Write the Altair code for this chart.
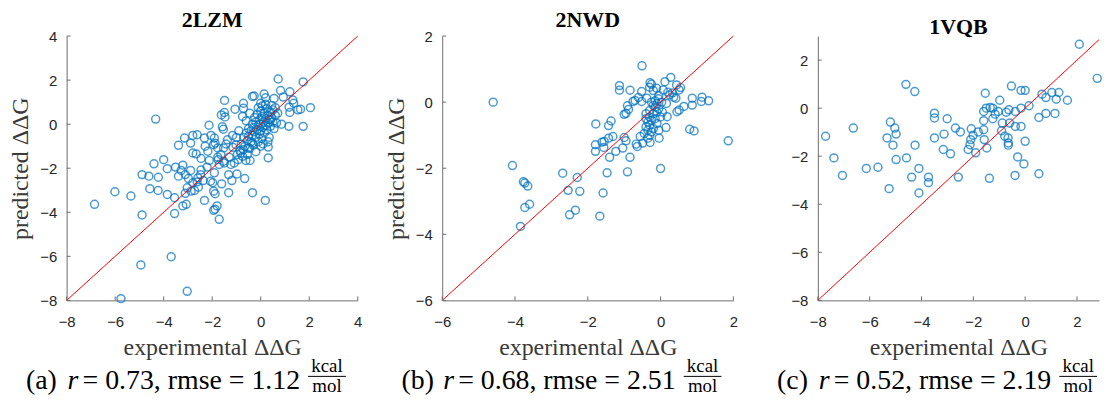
import altair as alt
import pandas as pd

names = ["2LZM", "2NWD", "1VQB"]

# ---- panel (a) 2LZM ----
a_exp = [0.72, 1.75, 0.82, 1.2, 0.14, -0.27, -0.34, 0.2, 0.55, 0.93, 1.32, 1.36, -1.49, -0.71, -0.71, -1.06, 0.0, 0.07,
         1.17, 1.2, 1.53, 1.64, 2.05, -1.5, -1.62, -1.47, -4.33, -1.58, -1.54, -2.13, 0.86, 1.16, 1.75, 0.41, 0.31, 0.31,
         -3.14, -3.39, -2.89, -2.8, -2.62, -2.8, -2.66, -2.32, -2.05, -1.91, -1.94, -2.18, -2.29, -2.46, -2.12, -1.77,
         -1.64, -1.53, -1.3, -1.23, -1.15, -1.16, -1.02, -0.82, -0.61, -0.44,
         -1.37, -1.43, -1.53, -1.77, -1.88, -1.71, -1.5, -1.75, -1.09, -0.93, -0.96, -0.75, -0.71, -0.55, -0.52, -0.34,
         -4.0, -4.4, -3.85, -4.22, -4.61, -4.89, -3.51, -3.21, -3.28, -3.39, -3.11, -2.89, -2.98, -2.59, -2.48, -2.62,
         -2.8, -3.03, -2.87, -3.11, -2.73, -2.57, -1.98, -2.07, -1.91, -1.61, -1.94, -1.88, -1.32, -1.19, -0.98, -0.66,
         -1.32, -0.34, 0.19, -2.32, -1.88, -1.8, -1.94, -1.71, -3.07, -3.21, -3.55, -3.55, -4.23, -4.57, -3.85, -5.35,
         -6.01, -6.85, -4.89, -3.69, -4.94, -3.03, -5.76, -2.21, -2.46, -2.37,
         -0.8, -0.7, -0.65, -0.6, -0.55, -0.5, -0.5, -0.45, -0.4, -0.4, -0.35, -0.35, -0.3, -0.3, -0.25, -0.25, -0.2,
         -0.2, -0.15, -0.15, -0.1, -0.1, -0.05, -0.05, 0.0, 0.0, 0.0, 0.05, 0.05, 0.1, 0.1, 0.15, 0.15, 0.2, 0.2, 0.25,
         0.25, 0.3, 0.3, 0.35, 0.35, 0.4, 0.4, 0.45, 0.5, 0.5, 0.55, 0.6, 0.65, -0.6, -0.9, -1.0, -0.85, -0.75, -0.45,
         0.0, 0.3, -0.2, 0.45, 0.2, -0.1, 0.6, 0.7, 0.1]
a_pred = [2.05, 1.92, 1.53, 1.47, 1.37, 1.28, 1.26, 1.2, 1.17, 1.23, 1.1, 0.95, 1.08, 0.95, 0.72, 0.68, 0.95, 0.83,
          0.77, 0.53, 0.65, 0.68, 0.75, 0.53, 0.42, 0.33, 0.23, -0.12, -0.23, -0.05, 0.0, -0.1, -0.1, 0.2, -1.53, -1.04,
          -0.63, -0.96, -0.86, -0.51, -0.48, -1.31, -1.35, -0.63, -0.51, -0.63, -0.93, -1.23, -1.0, -1.56, -1.65, -1.5,
          -1.38, -1.68, -1.5, -1.83, -1.05, -0.51, -0.93, -1.31, -1.65, -1.65,
          -0.71, -0.9, -1.08, -1.08, -0.86, -1.83, -1.76, -1.61, -1.76, -1.61, -1.38, -1.46, -1.16, -1.38, -1.08, -0.86,
          -1.61, -1.8, -2.02, -2.41, -2.36, -2.29, -1.95, -1.86, -2.1, -2.36, -2.29, -2.1, -2.47, -2.44, -2.29, -2.62,
          -2.66, -2.89, -3.04, -3.14, -3.01, -2.86, -2.66, -2.59, -2.21, -2.71, -3.04, -3.16, -2.29, -2.56, -2.26, -2.47,
          -3.11, -3.11, -3.46, -3.46, -3.86, -3.71, -3.91, -4.32, -3.64, -3.71, -3.34, -4.06, -3.01, -2.93, -3.19, -3.26,
          -3.07, -3.64, -4.12, -6.02, -6.39, -7.59, -7.92, -1.95, -2.08, -2.56,
          -0.9, -0.6, -1.0, -0.4, -0.75, -0.2, -0.55, -1.1, -0.3, -0.8, 0.0, -0.5, -0.15, -0.95, 0.3, -0.35, -0.6,
          0.1, -0.25, 0.45, -0.05, -0.8, 0.2, -0.45, 0.0, 0.6, -0.3, 0.35, -0.65, 0.1, -0.15, 0.5, -0.4, 0.25, -0.05, 0.7,
          -0.25, 0.4, 0.05, 0.2, -0.6, 0.55, -0.1, 0.3, 0.1, 0.65, -0.2, 0.4, 0.05, 0.15, -0.3, -0.6, -1.2, 0.35, 0.5,
          -1.0, -0.8, -1.25, 0.85, 0.9, 0.75, 0.75, 0.5, -0.9]

# ---- panel (b) 2NWD ----
b_exp = [-4.6, -0.51, 0.28, -0.29, -0.25, 0.12, 0.44, 0.55, 0.51, -1.13, -1.13, -0.84, -0.52, -0.11, 0.07, -0.61,
         -0.52, -0.76, -0.38, -0.25, -0.15, -0.06, 0.03, 0.16, 0.25, 0.36, 0.42, 0.87, 0.87, 1.14, 1.12, 1.32, 0.64,
         0.45, 0.51, 0.18, 0.15, -0.04, 0.8, 0.92, 1.86, -0.91, -0.88, -1.0, -0.95, -1.36, -1.43, -1.78, -1.31, -1.43,
         -1.55, -1.61, -1.79, -1.79, -1.56, -1.23, -1.4, -1.04, -1.0, -0.95, -0.84, -0.67, -0.64, -0.56, -0.49, -0.29,
         -0.35, -1.47, -0.91, 0.0, -1.58, -1.67, -2.69, -2.29, -2.54, -2.22, -2.34, -2.5, -4.07, -3.77, -3.73, -3.65,
         -3.6, -3.73, -3.85,
         -0.4, -0.35, -0.3, -0.4, -0.3, -0.2, -0.25, -0.15, -0.2, -0.35, -0.1, -0.1, -0.05, -0.3, -0.45, -0.15, 0.0,
         -0.25, -0.05, -0.4, -0.2, -0.1, 0.05, -0.3, -0.7, -0.05, -0.2, 0.2, 0.33, -0.3]
b_pred = [0.0, 1.1, 0.75, 0.59, 0.54, 0.62, 0.52, 0.44, 0.37, 0.5, 0.36, 0.36, 0.32, 0.42, 0.37, 0.14, 0.02, 0.02, 0.12,
          0.0, 0.04, 0.1, 0.0, -0.04, 0.22, 0.15, 0.12, 0.12, -0.09, 0.15, 0.02, 0.04, -0.13, -0.29, -0.24, -0.44, -0.77,
          -1.09, -0.82, -0.87, -1.17, -0.11, -0.22, -0.37, -0.34, -0.57, -0.71, -0.66, -1.04, -1.09, -1.19, -1.21, -1.29,
          -1.49, -1.37, -1.49, -1.67, -1.39, -1.07, -1.17, -1.67, -1.27, -1.34, -1.04, -1.24, -1.22, -1.09, -2.14, -2.11,
          -2.01, -2.75, -3.45, -2.15, -2.28, -2.67, -2.7, -3.27, -3.41, -1.92, -2.41, -2.45, -2.54, -3.09, -3.19, -3.76,
          -0.5, -0.6, -0.7, -0.75, -0.45, -0.35, -0.55, -0.5, -0.8, -0.85, -0.3, -0.65, -0.2, -0.25, -0.95, -0.15, -0.45,
          -0.9, -0.85, -0.35, -0.1, -0.05, -0.3, -1.0, 0.05, 0.2, 0.35, 0.3, 0.28, 0.45]

# ---- panel (c) 1VQB ----
c_exp = [2.09, 2.78, -7.7, -7.38, -7.05, -6.63, -6.13, -5.68, -5.25, -5.33, -5.2, -5.03, -4.98, -5.1, -4.98, -4.6,
         -4.26, -4.58, -4.25, -4.38, -4.1, -4.1, -3.73, -3.73, -3.5, -3.5, -3.5, -3.16, -3.13, -3.01, -2.88, -2.69,
         -2.5, -2.58, -2.08, -2.01, -2.1, -2.13, -2.2, -1.91, -1.81, -1.54, -1.6, -1.6, -1.6, -1.58, -1.48, -1.38, -1.5,
         -1.35, -1.25, -1.25, -1.16, -1.04, -0.98, -0.88, -0.91, -0.79, -0.73, -0.63, -0.6, -0.66, -0.65, -0.65, -0.53,
         -0.38, -0.38, -0.39, -0.29, -0.16, -0.16, -0.16, 0.0, 0.0, -0.05, 0.15, 0.53, 0.53, 0.65, 0.8, 0.8, 1.03, 1.2,
         1.3, 1.15, 1.63]
c_pred = [2.66, 1.24, -1.17, -2.07, -2.8, -0.83, -2.51, -2.46, -3.35, -1.24, -0.58, -0.83, -1.08, -1.54, -2.14, 0.99,
          0.69, -2.07, -1.54, -2.87, -2.51, -3.53, -2.87, -3.1, -0.21, -0.41, -1.24, -1.72, -1.08, -0.44, -1.9, -0.83,
          -0.99, -2.87, -0.86, -1.13, -1.31, -1.52, -1.72, -1.86, -0.99, 0.62, -0.14, -0.52, -0.9, -1.31, -1.66, -2.92,
          0.0, 0.03, 0.0, -0.44, -0.25, -0.14, 0.33, -0.62, -0.94, -1.17, -0.17, -0.07, -0.62, -1.24, -1.45, -1.54,
          0.92, -0.76, -0.14, -2.8, -2.03, 0.0, -0.76, 0.74, 0.74, -1.38, -2.32, 0.1, -0.39, -2.73, 0.58, 0.44, -0.22,
          0.65, 0.37, 0.65, -0.22, 0.33]

exps = [a_exp, b_exp, c_exp]
preds = [a_pred, b_pred, c_pred]

x_domains = [[-8, 4], [-6, 2], [-8, 2.85]]
y_domains = [[-8, 4], [-6, 2], [-8, 3]]
x_ticks = [[-8, -6, -4, -2, 0, 2, 4], [-6, -4, -2, 0, 2], [-8, -6, -4, -2, 0, 2]]
y_ticks = [[-8, -6, -4, -2, 0, 2, 4], [-6, -4, -2, 0, 2], [-8, -6, -4, -2, 0, 2]]
y_title_on = [True, True, False]
cap_tag = ["(a)", "(b)", "(c)"]
cap_r = ["0.73", "0.68", "0.52"]
cap_rmse = ["1.12", "2.51", "2.19"]

widths = [293, 293, 283]
H = 266
BLUE = "#0072BD"
AX = "#6e6e6e"
SERIF = "Liberation Serif"


def panel(i):
    W = widths[i]
    df = pd.DataFrame({"exp": exps[i], "pred": preds[i]})
    xs = alt.Scale(domain=x_domains[i], nice=False, zero=False)
    ys = alt.Scale(domain=y_domains[i], nice=False, zero=False)
    xaxis = alt.Axis(values=x_ticks[i], title="experimental ΔΔG", labelFlush=False)
    if y_title_on[i]:
        yaxis = alt.Axis(values=y_ticks[i], title="predicted ΔΔG", labelFlush=False)
    else:
        yaxis = alt.Axis(values=y_ticks[i], title=None, labelFlush=False)
    pts = alt.Chart(df).mark_point(shape="circle", filled=False, size=64, strokeWidth=1.5, color=BLUE).encode(
        x=alt.X("exp:Q", scale=xs, axis=xaxis),
        y=alt.Y("pred:Q", scale=ys, axis=yaxis),
    )
    diag = pd.DataFrame({"v": x_domains[i]})
    line = alt.Chart(diag).mark_line(color="#ff0000", strokeWidth=1).encode(
        x=alt.X("v:Q", scale=xs), y=alt.Y("v:Q", scale=ys)
    )
    xt = alt.Chart(pd.DataFrame({"t": x_ticks[i]})).mark_rule(color=AX, strokeWidth=1).encode(
        x=alt.X("t:Q", scale=xs), y=alt.value(H), y2=alt.value(H - 4)
    )
    yt = alt.Chart(pd.DataFrame({"t": y_ticks[i]})).mark_rule(color=AX, strokeWidth=1).encode(
        y=alt.Y("t:Q", scale=ys), x=alt.value(0), x2=alt.value(4)
    )
    one = pd.DataFrame({
        "tag": [cap_tag[i]],
        "r": ["r"],
        "rest": ["= " + cap_r[i] + ", rmse = " + cap_rmse[i]],
        "num": ["kcal"],
        "den": ["mol"],
    })
    base = alt.Chart(one)
    c1 = base.mark_text(align="left", baseline="alphabetic", font=SERIF, fontSize=28, color="black").encode(
        text="tag:N", x=alt.value(-41), y=alt.value(355))
    c2 = base.mark_text(align="left", baseline="alphabetic", font=SERIF, fontSize=28, fontStyle="italic",
                        color="black").encode(text="r:N", x=alt.value(1), y=alt.value(355))
    c3 = base.mark_text(align="left", baseline="alphabetic", font=SERIF, fontSize=28, color="black").encode(
        text="rest:N", x=alt.value(16), y=alt.value(355))
    c4 = base.mark_text(align="center", baseline="alphabetic", font=SERIF, fontSize=19, color="black").encode(
        text="num:N", x=alt.value(262), y=alt.value(338))
    c5 = base.mark_rule(color="black", strokeWidth=1).encode(
        x=alt.value(243), x2=alt.value(281), y=alt.value(342.5))
    c6 = base.mark_text(align="center", baseline="alphabetic", font=SERIF, fontSize=19, color="black").encode(
        text="den:N", x=alt.value(262), y=alt.value(358))
    return alt.layer(pts, line, xt, yt, c1, c2, c3, c4, c5, c6).properties(
        width=W, height=H,
        title=alt.TitleParams(text=names[i], font=SERIF, fontSize=22, fontWeight="bold", color="black",
                              anchor="middle", frame="group", offset=-3),
    )


chart = alt.hconcat(*[panel(i) for i in range(3)], spacing=85, bounds="flush").properties(
    padding={"left": 0, "top": 0, "right": 0, "bottom": 0}
).configure_view(stroke=None).configure_axis(
    domainColor=AX, domainWidth=1, ticks=False, tickSize=0, grid=False,
    labelFont="Liberation Sans", labelFontSize=15, labelColor="#262626",
    titleFont=SERIF, titleFontSize=24, titleFontWeight="normal", titleColor="#3a3a3a",
).configure_axisX(labelPadding=14, titlePadding=6).configure_axisY(labelPadding=10, titlePadding=7)

chart.save("out.html", embed_options={"renderer": "svg", "actions": False})
